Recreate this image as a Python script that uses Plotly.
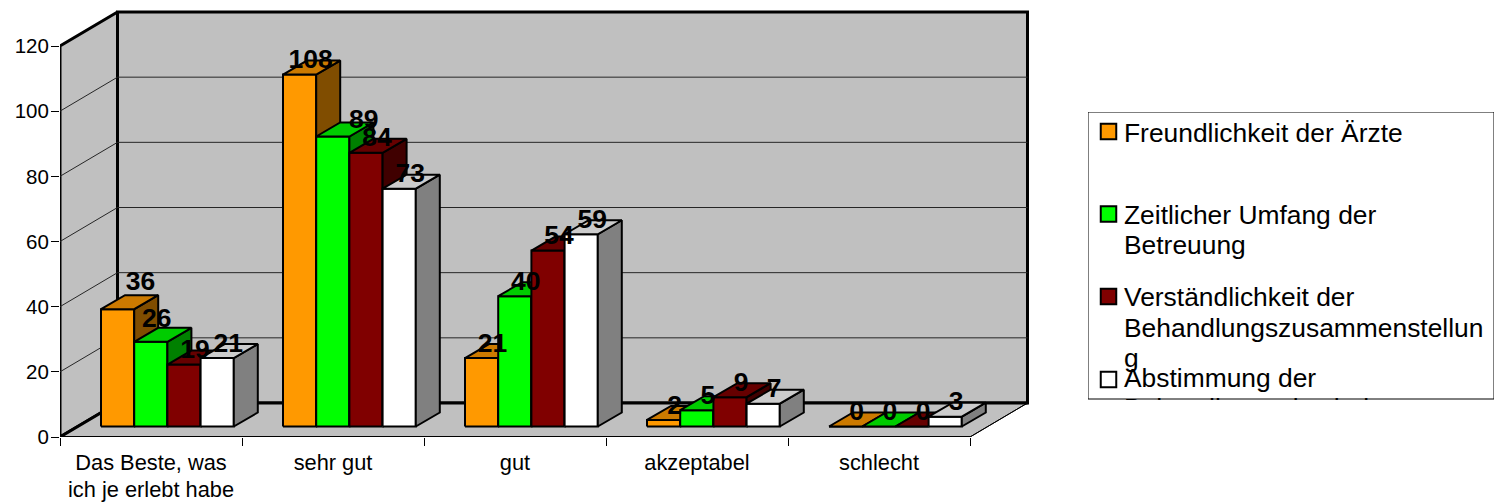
import plotly.graph_objects as go

categories = ["Das Beste, was<br>ich je erlebt habe", "sehr gut", "gut", "akzeptabel", "schlecht"]
series_names = ["Freundlichkeit der Ärzte", "Zeitlicher Umfang der Betreuung",
                "Verständlichkeit der Behandlungszusammenstellung", "Abstimmung der Behandlungsabschnitte"]
freundlichkeit = [36, 108, 21, 2, 0]
zeitlicher = [26, 89, 40, 5, 0]
verstaendlichkeit = [19, 84, 54, 9, 0]
abstimmung = [21, 73, 59, 7, 3]
series_values = [freundlichkeit, zeitlicher, verstaendlichkeit, abstimmung]
y_ticks = [0, 20, 40, 60, 80, 100, 120]

front = ["#FF9900", "#00FF00", "#800000", "#FFFFFF"]
side = ["#804D00", "#008000", "#400000", "#808080"]
top = ["#CC7A00", "#00CC00", "#660000", "#CCCCCC"]

W, H = 1497, 504
PX_X = 182.0            # pixels per category
PX_Y = 391 / 120        # pixels per value unit
X0, Y0 = 60, 437        # pixel of the axis origin
ux = lambda p: p / PX_X
uy = lambda p: p / PX_Y
WALL_DX, WALL_DY = ux(57.5), uy(34)
BAR_DX, BAR_DY = ux(24), uy(14)
FLOOR_OFF_X, FLOOR_OFF_Y = ux(17), uy(10.5)
GAP, BAR_W = ux(24), ux(33.2)
YMAX = 120
LABEL_DX, LABEL_DY = ux(11), uy(13)
# labels dragged away from the default place in the reference (series, category): dx, dy px
LABEL_MOVED = {(0, 0): (12, 13), (1, 0): (-5, 8), (1, 1): (20, 2)}

fig = go.Figure()


def poly(xs, ys, fill=None, lw=2, color="black"):
    fig.add_trace(go.Scatter(
        x=xs, y=ys, mode="lines", fill="toself" if fill else "none", fillcolor=fill,
        line=dict(color=color, width=lw), showlegend=False, hoverinfo="skip", cliponaxis=False))


N = len(categories)
# walls and floor
poly([WALL_DX, N + WALL_DX, N + WALL_DX, WALL_DX, WALL_DX],
     [WALL_DY, WALL_DY, YMAX + WALL_DY, YMAX + WALL_DY, WALL_DY], "#C0C0C0", 3)
poly([0, WALL_DX, WALL_DX, 0, 0], [0, WALL_DY, YMAX + WALL_DY, YMAX, 0], "#C0C0C0", 3)
poly([0, N, N + WALL_DX, WALL_DX, 0], [0, 0, WALL_DY, WALL_DY, 0], "#C0C0C0", 1)
for t in y_ticks[1:-1]:
    poly([0, WALL_DX, N + WALL_DX], [t, t + WALL_DY, t + WALL_DY], None, 1, "#262626")
poly([0, WALL_DX, N + WALL_DX], [0, WALL_DY, WALL_DY], None, 3)
poly([0, N], [0, 0], None, 2)
poly([N, N + WALL_DX], [0, WALL_DY], None, 1)

# bars
lx, ly, lt = [], [], []
for c in range(N):
    for s, vals in enumerate(series_values):
        v = vals[c]
        x0 = c + FLOOR_OFF_X + GAP + s * BAR_W
        x1 = x0 + BAR_W
        b = FLOOR_OFF_Y
        t = b + v
        poly([x0, x1, x1, x0, x0], [b, b, t, t, b], front[s])
        poly([x1, x1 + BAR_DX, x1 + BAR_DX, x1, x1], [b, b + BAR_DY, t + BAR_DY, t, b], side[s])
        poly([x0, x1, x1 + BAR_DX, x0 + BAR_DX, x0], [t, t, t + BAR_DY, t + BAR_DY, t], top[s])
        mdx, mdy = LABEL_MOVED.get((s, c), (0, 0))
        lx.append((x0 + x1) / 2 + LABEL_DX + ux(mdx))
        ly.append(t + LABEL_DY + uy(mdy))
        lt.append(str(v))
fig.add_trace(go.Scatter(x=lx, y=ly, text=lt, mode="text", textposition="middle center",
                         textfont=dict(family="Liberation Sans", size=26.5, color="black", weight="bold"),
                         showlegend=False, hoverinfo="skip", cliponaxis=False))

# legend drawn as its own clipped panel, since the reference cuts off the last entry
LEG = dict(l=1088, r=1494, t=112, b=400)
legend_lines = ["Freundlichkeit der Ärzte", "Zeitlicher Umfang der<br>Betreuung",
                "Verständlichkeit der<br>Behandlungszusammenstellun<br>g",
                "Abstimmung der<br>Behandlungsabschnitte"]
legend_mark_y = [131.5, 214, 296.5, 379.5]
legend_text_y = [136, 233, 331, 396]
span = lambda s: '<span style="font-size:26.4px">' + s.replace("<br>", '</span><br><span style="font-size:26.4px">') + "</span>"
fig.add_trace(go.Scatter(x=[1124] * 4, y=legend_text_y, xaxis="x2", yaxis="y2", mode="text",
                         text=[span(s) for s in legend_lines], textposition="middle right",
                         textfont=dict(family="Liberation Sans", size=23.5, color="black"),
                         showlegend=False, hoverinfo="skip", cliponaxis=True))
fig.add_trace(go.Scatter(x=[1108.5] * 4, y=legend_mark_y, xaxis="x2", yaxis="y2", mode="markers",
                         marker=dict(symbol="square", size=15.5, color=front, line=dict(color="black", width=2)),
                         showlegend=False, hoverinfo="skip"))

tickfont = dict(family="Liberation Sans", size=21, color="black")
fig.update_layout(
    width=W, height=H, margin=dict(l=0, r=0, t=0, b=0), autosize=False,
    paper_bgcolor="white", plot_bgcolor="rgba(0,0,0,0)",
    xaxis=dict(domain=[X0 / W, 1040 / W], range=[0, (1040 - X0) / PX_X], showgrid=False, zeroline=False,
               automargin=False, showline=False, tickmode="array", tickvals=[i + 0.5 for i in range(N)],
               ticktext=['<span style="font-size:21.8px">' + c.replace("<br>", '</span><br><span style="font-size:21.8px">') + "</span>" for c in categories],
               ticks="", tickfont=tickfont, tickangle=0, ticklabelstandoff=11,
               minor=dict(tickmode="array", tickvals=list(range(N + 1)), ticks="outside", ticklen=8,
                          tickcolor="black", tickwidth=1, showgrid=False)),
    yaxis=dict(domain=[(H - Y0) / H, (H - 4) / H], range=[0, (Y0 - 4) / PX_Y], showgrid=False, zeroline=False,
               automargin=False, showline=False, tickmode="array", tickvals=y_ticks, ticks="outside", ticklen=8,
               tickcolor="black", tickwidth=1, ticklabelstandoff=-2,
               tickfont=dict(family="Liberation Sans", size=20.5, color="black")),
    xaxis2=dict(domain=[LEG["l"] / W, LEG["r"] / W], range=[LEG["l"], LEG["r"]], visible=False, anchor="y2", automargin=False),
    yaxis2=dict(domain=[(H - LEG["b"]) / H, (H - LEG["t"]) / H], range=[LEG["b"], LEG["t"]], visible=False, anchor="x2", automargin=False),
    shapes=[dict(type="rect", xref="x2", yref="y2", x0=LEG["l"], x1=LEG["r"], y0=LEG["t"], y1=LEG["b"] - 1,
                 line=dict(color="black", width=1), fillcolor="rgba(0,0,0,0)", layer="above")],
)

fig.write_html("out.html", config=dict(displayModeBar=False),
               post_script="document.body.style.margin='0';document.body.style.overflow='hidden';")
